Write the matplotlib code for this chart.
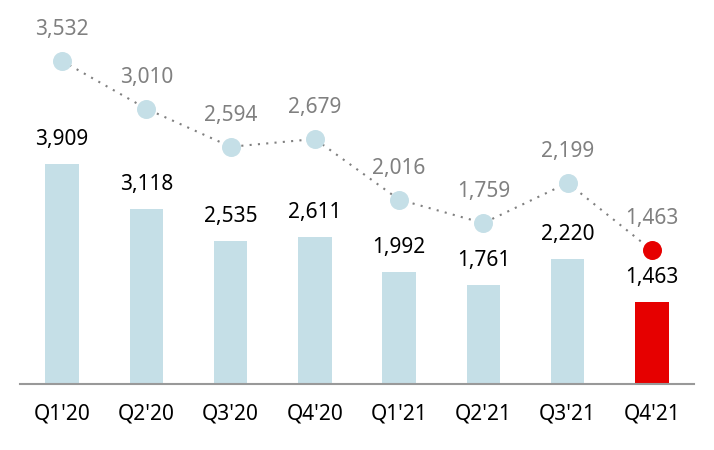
import numpy as np
import matplotlib.pyplot as plt

plt.rcParams['font.family'] = ['Noto Sans', 'DejaVu Sans']

quarters = ["Q1'20", "Q2'20", "Q3'20", "Q4'20", "Q1'21", "Q2'21", "Q3'21", "Q4'21"]
bar_vals = [3909, 3118, 2535, 2611, 1992, 1761, 2220, 1463]
line_vals = [3532, 3010, 2594, 2679, 2016, 1759, 2199, 1463]

blue = '#c5dfe7'
red = '#e60000'
gray = '#808080'

x = np.arange(len(quarters))
bar_colors = [blue] * (len(x) - 1) + [red]

fig = plt.figure(figsize=(7.14, 4.5), dpi=100)
ax = fig.add_axes([0.028, 0.1467, 0.944, 0.8533])
ax2 = ax.twinx()

ax.bar(x, bar_vals, width=0.4, color=bar_colors, zorder=2)
for xi, v in zip(x, bar_vals):
    ax.annotate(f"{v:,}", (xi, v), xytext=(0, 14), textcoords='offset pixels',
                ha='center', va='bottom', fontsize=15, color='black')

marker_area = (19 * 0.72) ** 2
ax2.plot(x, line_vals, linestyle=(0, (1, 3)), color=gray, linewidth=1.5, zorder=1)
ax2.scatter(x[:-1], line_vals[:-1], s=marker_area, color=blue, zorder=3, linewidths=0)
ax2.scatter(x[-1:], line_vals[-1:], s=marker_area, color=red, zorder=3, linewidths=0)
for xi, v in zip(x, line_vals):
    ax2.annotate(f"{v:,}", (xi, v), xytext=(0, 21), textcoords='offset pixels',
                 ha='center', va='bottom', fontsize=15, color=gray)

ax.set_xlim(-0.5, 7.5)
ax.set_ylim(0, 6823)
ax2.set_ylim(0, 4199)

ax.set_xticks(x)
ax.set_xticklabels(quarters, fontsize=15)
ax.tick_params(axis='x', length=0, pad=14)
ax.set_yticks([])
ax2.set_yticks([])
for a in (ax, ax2):
    for s in ['top', 'right', 'left', 'bottom']:
        a.spines[s].set_visible(False)
ax.spines['bottom'].set_visible(True)
ax.spines['bottom'].set_color('#999999')
ax.spines['bottom'].set_linewidth(1.5)

fig.savefig('out.png', dpi=100)
